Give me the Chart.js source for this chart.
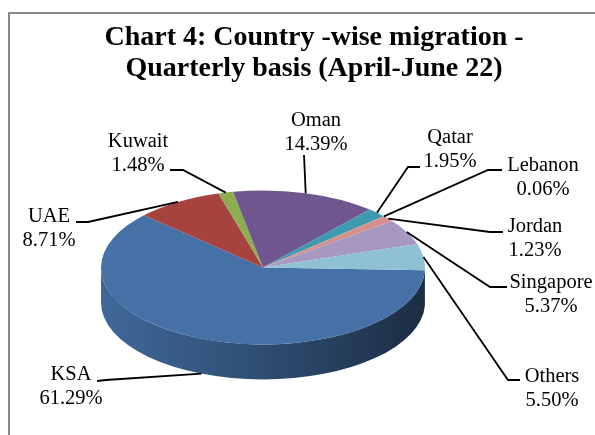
<!DOCTYPE html>
<html>
<head>
<meta charset="utf-8">
<script src="https://cdn.jsdelivr.net/npm/chart.js@4"></script>
<style>
  html, body { margin: 0; padding: 0; background: #fff; }
  #wrap { position: relative; width: 595px; height: 435px; overflow: hidden; }
  #frame { position: absolute; left: 8px; top: 12px; width: 620px; height: 460px; border: 2px solid #8a8a8a; }
  canvas { position: absolute; left: 0; top: 0; }
</style>
</head>
<body>
<div id="wrap">
  <div id="frame"></div>
  <canvas id="pieChart" width="595" height="435"></canvas>
</div>
<script>
// Chart data
const countries = ['KSA', 'UAE', 'Kuwait', 'Oman', 'Qatar', 'Lebanon', 'Jordan', 'Singapore', 'Others'];
const shares = [61.29, 8.71, 1.48, 14.39, 1.95, 0.06, 1.23, 5.37, 5.50];
const sliceColors = ['#4571a7', '#a7433f', '#8cae4f', '#6f568f', '#3d9ab0', '#ee8a3c', '#d3908d', '#a698be', '#8dc1d3'];
const titleLines = ['Chart 4: Country -wise migration -', 'Quarterly basis (April-June 22)'];

// Label layout: text centre x / first baseline, and where the leader line meets the label
const labelPos = [[71, 380], [49, 222], [138, 147], [316, 126], [450, 143], [543, 171], [535, 232], [551, 288], [552, 382]];
const leaderEnd = [[97, 381], [76, 222], [170, 170], [304, 155], [420, 167], [502, 170], [503, 232], [507, 287], [520, 380]];
const leaderElbow = [[106, 380], [88, 222], [183, 170], [304, 155], [408, 167], [488, 170], [490, 232], [490, 287], [508, 380]];

const TILT = 0.475;   // vertical squash of the pie
const DEPTH = 35;     // thickness of the 3D side
const SERIF = '"Liberation Serif", "Times New Roman", serif';

function shade(hex, f) {
    const n = parseInt(hex.slice(1), 16);
    const r = Math.round(((n >> 16) & 255) * f);
    const g = Math.round(((n >> 8) & 255) * f);
    const b = Math.round((n & 255) * f);
    return `rgb(${r},${g},${b})`;
}

const pie3d = {
    id: 'pie3d',
    beforeDatasetsDraw(chart) {
        const ctx = chart.ctx;
        const arcs = chart.getDatasetMeta(0).data;
        const { x: cx, y: cy, outerRadius: r } = arcs[0];
        const ry = r * TILT;

        // side walls, only the front half of the ellipse is visible
        arcs.forEach((arc, i) => {
            [0, 2 * Math.PI, -2 * Math.PI].forEach(shift => {
                const s = Math.max(arc.startAngle, shift);
                const e = Math.min(arc.endAngle, shift + Math.PI);
                if (e <= s) return;
                const grad = ctx.createLinearGradient(cx - r, 0, cx + r, 0);
                grad.addColorStop(0, shade(sliceColors[i], 0.92));
                grad.addColorStop(0.5, shade(sliceColors[i], 0.68));
                grad.addColorStop(1, shade(sliceColors[i], 0.40));
                ctx.beginPath();
                ctx.ellipse(cx, cy, r, ry, 0, s, e);
                ctx.ellipse(cx, cy + DEPTH, r, ry, 0, e, s, true);
                ctx.closePath();
                ctx.fillStyle = grad;
                ctx.fill();
            });
        });

        // squash the top face drawn by Chart.js
        ctx.save();
        ctx.translate(0, cy * (1 - TILT));
        ctx.scale(1, TILT);
    },
    afterDatasetsDraw(chart) {
        const ctx = chart.ctx;
        ctx.restore();

        const arcs = chart.getDatasetMeta(0).data;
        const { x: cx, y: cy, outerRadius: r } = arcs[0];
        const ry = r * TILT;

        // leader lines
        ctx.save();
        ctx.strokeStyle = '#000';
        ctx.lineWidth = 1.8;
        arcs.forEach((arc, i) => {
            const mid = (arc.startAngle + arc.endAngle) / 2;
            let ax = cx + r * Math.cos(mid);
            let ay = cy + ry * Math.sin(mid);
            if (Math.sin(mid) > 0.3) ay += DEPTH;
            ctx.beginPath();
            ctx.moveTo(ax, ay);
            ctx.lineTo(leaderElbow[i][0], leaderElbow[i][1]);
            ctx.lineTo(leaderEnd[i][0], leaderEnd[i][1]);
            ctx.stroke();
        });

        // data labels
        ctx.fillStyle = '#000';
        ctx.font = `20.5px ${SERIF}`;
        ctx.textAlign = 'center';
        ctx.textBaseline = 'alphabetic';
        countries.forEach((name, i) => {
            const [lx, ly] = labelPos[i];
            ctx.fillText(name, lx, ly);
            ctx.fillText(shares[i].toFixed(2) + '%', lx, ly + 24);
        });

        // title
        ctx.font = `bold 28px ${SERIF}`;
        ctx.fillText(titleLines[0], 314, 45);
        ctx.fillText(titleLines[1], 314, 76);
        ctx.restore();
    }
};

new Chart(document.getElementById('pieChart'), {
    type: 'pie',
    data: {
        labels: countries,
        datasets: [{
            data: shares,
            backgroundColor: sliceColors,
            borderWidth: 0,
            hoverOffset: 0
        }]
    },
    options: {
        responsive: false,
        animation: false,
        rotation: 92,
        layout: { padding: { left: 101, right: 170, top: 105, bottom: 5 } },
        plugins: {
            legend: { display: false },
            title: { display: false },
            tooltip: { enabled: false }
        }
    },
    plugins: [pie3d]
});
</script>
</body>
</html>
